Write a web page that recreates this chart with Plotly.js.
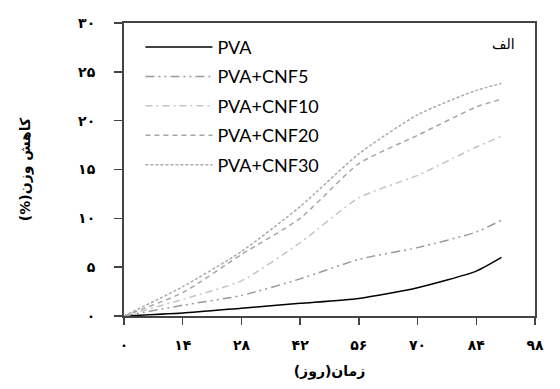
<!DOCTYPE html>
<html>
<head>
<meta charset="utf-8">
<script src="https://cdn.plot.ly/plotly-3.0.1.min.js"></script>
<style>html,body{margin:0;padding:0;background:#fff;}#chart{width:560px;height:389px;}</style>
</head>
<body>
<div id="chart"></div>
<script>
const days = [0, 14, 28, 42, 56, 70, 84, 90];
const pva = [0, 0.3, 0.8, 1.3, 1.8, 2.9, 4.6, 6.0];
const cnf5 = [0, 1.1, 2.1, 3.8, 5.8, 7.0, 8.6, 9.8];
const cnf10 = [0, 1.7, 3.6, 7.5, 12.1, 14.4, 17.3, 18.4];
const cnf20 = [0, 2.4, 6.3, 10.0, 15.6, 18.5, 21.4, 22.2];
const cnf30 = [0, 3.0, 6.6, 11.2, 16.6, 20.6, 23.1, 23.8];
const names = ['PVA', 'PVA+CNF5', 'PVA+CNF10', 'PVA+CNF20', 'PVA+CNF30'];
const xTickVals = [0, 14, 28, 42, 56, 70, 84, 98];
const xTickText = ['۰', '۱۴', '۲۸', '۴۲', '۵۶', '۷۰', '۸۴', '۹۸'];
const yTickVals = [0, 5, 10, 15, 20, 25, 30];
const yTickText = ['۰', '۵', '۱۰', '۱۵', '۲۰', '۲۵', '۳۰'];
const xTitle = '\u200Fزمان(روز)\u200F';
const yTitle = '\u200Fکاهش وزن(%)\u200F';
const cornerLabel = 'الف';

const series = [pva, cnf5, cnf10, cnf20, cnf30];
const styles = [
  {color: '#000000', dash: 'solid', width: 1.5},
  {color: '#9a9a9a', dash: '9px,4px,2px,4px,2px,4px', width: 1.5},
  {color: '#c4c4c4', dash: '7px,4px,2px,4px', width: 1.5},
  {color: '#a6a6a6', dash: '5px,4px', width: 1.5},
  {color: '#ababab', dash: '3px,2px', width: 1.5}
];
const traces = series.map((ys, i) => ({
  x: days, y: ys, name: names[i], type: 'scatter', mode: 'lines',
  line: {color: styles[i].color, dash: styles[i].dash, width: styles[i].width, shape: 'spline', smoothing: 0.6},
  legendgroup: 'g' + i
}));

const tickFont = {family: 'DejaVu Sans', size: 14, color: '#000', weight: 'bold'};
const titleFont = {family: 'DejaVu Sans', size: 14, color: '#000', weight: 'bold'};
const layout = {
  width: 560, height: 389,
  margin: {l: 124, r: 25, t: 23, b: 73},
  paper_bgcolor: '#fff', plot_bgcolor: '#fff',
  showlegend: true,
  legend: {
    x: 0.04, y: 0.98, xanchor: 'left', yanchor: 'top',
    bgcolor: 'rgba(0,0,0,0)', borderwidth: 0,
    font: {family: 'Lato', size: 18, color: '#000'},
    traceorder: 'grouped', tracegroupgap: 3, itemwidth: 67
  },
  xaxis: {
    range: [0, 98], tickvals: xTickVals, ticktext: xTickText,
    ticks: 'outside', ticklen: 7, tickwidth: 1.5, tickcolor: '#444',
    showline: true, linecolor: '#444', linewidth: 2, mirror: true,
    showgrid: false, zeroline: false, tickfont: tickFont, ticklabelstandoff: 8,
    title: {text: xTitle, font: titleFont, standoff: 14}
  },
  yaxis: {
    range: [0, 30], tickvals: yTickVals, ticktext: yTickText,
    ticks: 'outside', ticklen: 8, tickwidth: 1.5, tickcolor: '#444',
    showline: true, linecolor: '#444', linewidth: 2, mirror: true,
    showgrid: false, zeroline: false, tickfont: tickFont, ticklabelstandoff: 16,
    title: {text: yTitle, font: titleFont, standoff: 44}
  },
  annotations: [{
    text: cornerLabel, xref: 'paper', yref: 'paper', x: 0.955, y: 0.93,
    xanchor: 'right', yanchor: 'middle', showarrow: false,
    font: {family: 'DejaVu Sans', size: 14, color: '#000'}
  }]
};
Plotly.newPlot('chart', traces, layout, {displayModeBar: false, staticPlot: true});
</script>
</body>
</html>
